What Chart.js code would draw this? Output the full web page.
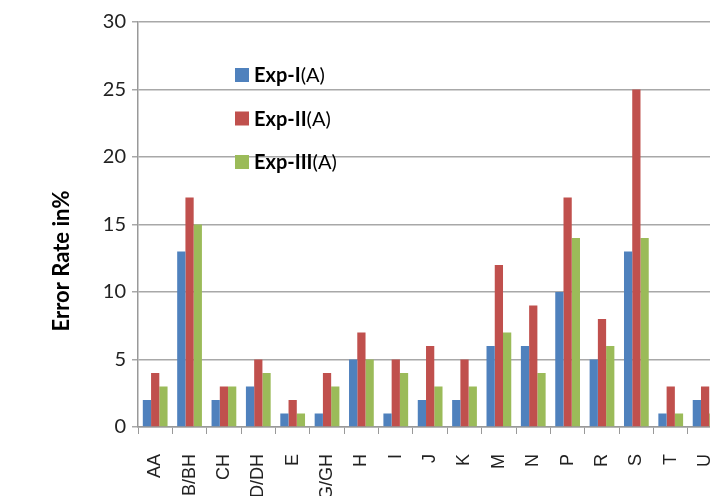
<!DOCTYPE html>
<html><head><meta charset="utf-8">
<script src="https://cdn.jsdelivr.net/npm/chart.js@4/dist/chart.umd.min.js"></script>
<style>html,body{margin:0;padding:0;background:#fff;overflow:hidden;width:710px;height:496px}#wrap{width:747px;height:496px}</style>
</head><body><div id="wrap"><canvas id="c" width="747" height="496"></canvas></div>
<script>
const categories = ["AA","B/BH","CH","D/DH","E","G/GH","H","I","J","K","M","N","P","R","S","T","U"];
const exp1 = [2,13,2,3,1,1,5,1,2,2,6,6,10,5,13,1,2];
const exp2 = [4,17,3,5,2,4,7,5,6,5,12,9,17,8,25,3,3];
const exp3 = [3,15,3,4,1,3,5,4,3,3,7,4,14,6,14,1,1];
const seriesNames = [["Exp-I","(A)"],["Exp-II","(A)"],["Exp-III","(A)"]];
const yTicks = [0,5,10,15,20,25,30];
const colors = ["#4F81BD","#C0504D","#9BBB59"];

const legendPlugin = {
  id:'customLegend',
  afterDraw(chart){
    const ctx = chart.ctx;
    ctx.save();
    chart.data.datasets.forEach((ds,i)=>{
      const x = 235, y = 68 + i*43.5;
      ctx.fillStyle = ds.backgroundColor;
      ctx.fillRect(x, y, 14, 14);
      ctx.textBaseline = 'middle';
      ctx.fillStyle = '#000';
      ctx.font = 'bold 20px Lato';
      const nm = seriesNames[i];
      ctx.fillText(nm[0], x+19, y+8);
      const w = ctx.measureText(nm[0]).width;
      ctx.font = '20px Lato';
      ctx.fillText(nm[1], x+19+w, y+8);
    });
    ctx.restore();
  }
};
const yTitlePlugin = {
  id:'yTitle',
  afterDraw(chart){
    const ctx = chart.ctx;
    ctx.save();
    ctx.translate(62, 261);
    ctx.rotate(-Math.PI/2);
    ctx.font = 'bold 22px Lato';
    ctx.fillStyle = '#000';
    ctx.textAlign = 'center';
    ctx.textBaseline = 'middle';
    ctx.fillText('Error Rate in%', 0, 0);
    ctx.restore();
  }
};

new Chart(document.getElementById('c'), {
  type:'bar',
  data:{
    labels: categories,
    datasets:[
      {label: seriesNames[0].join(''), data: exp1, backgroundColor: colors[0]},
      {label: seriesNames[1].join(''), data: exp2, backgroundColor: colors[1]},
      {label: seriesNames[2].join(''), data: exp3, backgroundColor: colors[2]}
    ]
  },
  options:{
    responsive:false,
    animation:false,
    devicePixelRatio:1,
    layout:{padding:{top:22,right:10,left:0,bottom:0}},
    datasets:{bar:{categoryPercentage:0.72,barPercentage:1}},
    plugins:{legend:{display:false},tooltip:{enabled:false}},
    scales:{
      x:{
        grid:{offset:true,drawOnChartArea:false,color:'#999',tickLength:7},
        border:{color:'#999',width:1.5},
        ticks:{maxRotation:90,minRotation:90,color:'#222',font:{family:'Liberation Sans',size:18},padding:20},
        afterFit(s){ s.height = 69; }
      },
      y:{
        min:0,max:30,
        afterBuildTicks(s){ s.ticks = yTicks.map(v=>({value:v})); },
        grid:{color:'#a8a8a8',lineWidth:1.5,tickLength:6},
        border:{color:'#999',width:1.5},
        ticks:{color:'#222',font:{family:'Lato',size:20},padding:6},
        afterFit(s){ s.width = 138; }
      }
    }
  },
  plugins:[legendPlugin,yTitlePlugin]
});
</script></body></html>
